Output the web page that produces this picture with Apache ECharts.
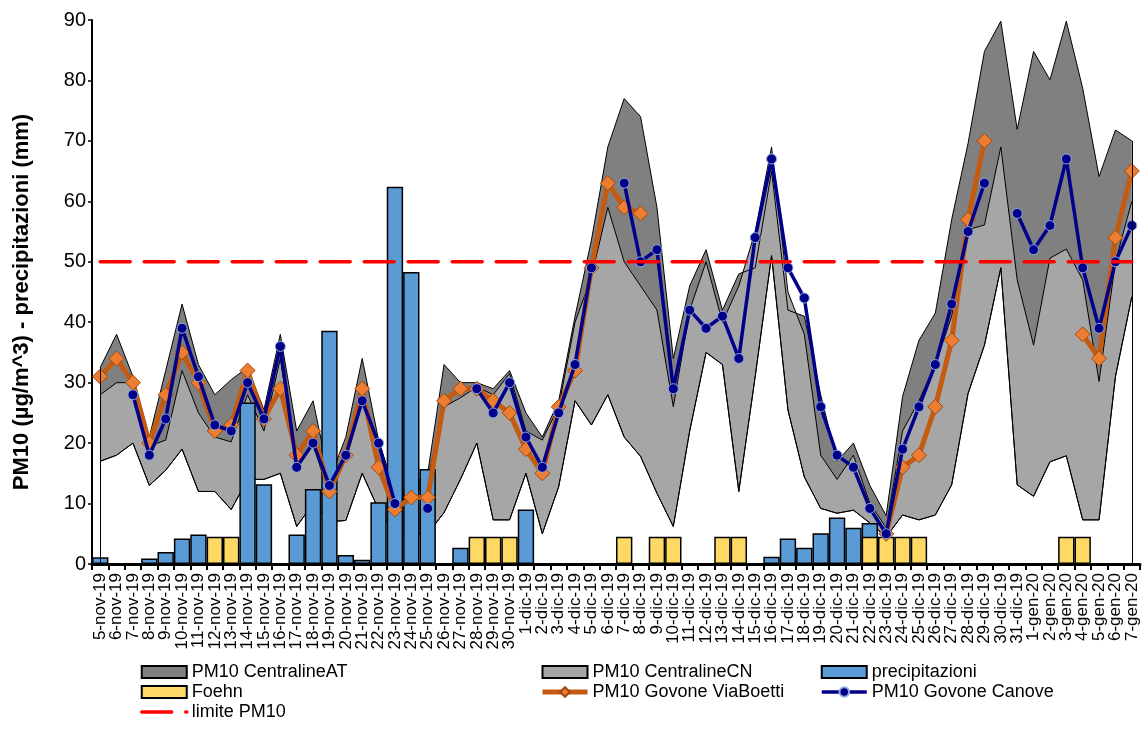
<!DOCTYPE html>
<html><head><meta charset="utf-8">
<script src="https://cdn.jsdelivr.net/npm/echarts@6/dist/echarts.min.js"></script>
<style>html,body{margin:0;padding:0;background:#fff}#c{width:1144px;height:749px}</style>
</head><body><div id="c"></div>
<script>
const categories = ['5-nov-19','6-nov-19','7-nov-19','8-nov-19','9-nov-19','10-nov-19','11-nov-19','12-nov-19','13-nov-19','14-nov-19','15-nov-19','16-nov-19','17-nov-19','18-nov-19','19-nov-19','20-nov-19','21-nov-19','22-nov-19','23-nov-19','24-nov-19','25-nov-19','26-nov-19','27-nov-19','28-nov-19','29-nov-19','30-nov-19','1-dic-19','2-dic-19','3-dic-19','4-dic-19','5-dic-19','6-dic-19','7-dic-19','8-dic-19','9-dic-19','10-dic-19','11-dic-19','12-dic-19','13-dic-19','14-dic-19','15-dic-19','16-dic-19','17-dic-19','18-dic-19','19-dic-19','20-dic-19','21-dic-19','22-dic-19','23-dic-19','24-dic-19','25-dic-19','26-dic-19','27-dic-19','28-dic-19','29-dic-19','30-dic-19','31-dic-19','1-gen-20','2-gen-20','3-gen-20','4-gen-20','5-gen-20','6-gen-20','7-gen-20'];

const atMax = [32.5,38,31,21,32,43,33,28,30.5,32.5,25.5,38,22,27,14,21,34,20.5,12,13,15,33,30,30,29,32,25,21,27,41,53.6,69,77,74,59,34,46,52,42,48,49,65,42,41,28,17,20,13,8,27.7,37,41.5,57,69.6,84.8,89.8,71.9,84.8,80.1,89.8,78.7,64.1,71.8,70];
const cnMax = [28,30,30,19.5,20.5,32,25,21,20.2,28,22,34,16,20,11,18,28,16,10,11,14,26,27.5,29.3,28,31.5,22,20.5,26,40,47.5,59,50,46,42,26,42,50,40,46,55,69,45,38,18,14,18,10,6,22,27,33,41,55.3,56.1,69,47,36.2,50.6,52.1,47,30.2,50,60];
const cnMin = [17,18,20,13,15.5,19,12,12,9,14,14,15,6.2,10,7,7.2,15,9,5,5,5,8.5,14,20,7.3,7.3,15,5,12.8,27,23,28,21,17.8,11.7,6.2,22,35,33,12,31,51,25.5,14.4,9.2,8.4,8.9,6.8,4.5,8.1,7.3,8.1,13.1,28.2,36.2,49,13.1,11.2,16.9,17.9,7.3,7.3,31,44.2];
const atMin = cnMin.slice();

const precipitazioni = [1.1,0,0,0.9,2.0,4.2,4.9,0,0,26.7,13.2,0,4.9,12.4,38.6,1.5,0.7,10.2,62.4,48.3,15.7,0,2.7,0,0,0,9.0,0,0,0,0,0,0,0,0,0,0,0,0,0,0,1.2,4.2,2.7,5.1,7.7,6.0,6.8,0,0,0,0,0,0,0,0,0,0,0,0,0,0,0,0];
const foehn = [null,null,null,null,null,null,null,4.5,4.5,null,null,null,null,null,null,null,null,null,null,null,null,null,null,4.5,4.5,4.5,null,null,null,null,null,null,4.5,null,4.5,4.5,null,null,4.5,4.5,null,null,null,null,null,null,null,4.5,4.5,4.5,4.5,null,null,null,null,null,null,null,null,4.5,4.5,null,null,null];
const viaBoetti = [31,34,30,20,28,35,30,22,23,32,24,29,18,22,12,18,29,16,9,11,11,27,29,29,27,25,19,15,26,32,49,63,59,58,null,null,null,null,null,null,null,null,null,null,null,null,null,null,5,16,18,26,37,57,70,null,null,null,null,null,38,34,54,65];
const canove = [null,null,28,18,24,39,31,23,22,30,24,36,16,20,13,18,27,20,10,null,9.2,null,null,29,25,30,21,16,25,33,49,null,63,50,52,29,42,39,41,34,54,67,49,44,26,18,16,9.2,5,19,26,33,43,55,63,null,58,52,56,67,49,39,50,56];
const limitePM10 = 50;
const yTicks = {min: 0, max: 90, interval: 10};
const yTitle = 'PM10 (µg/m^3) - precipitazioni (mm)';

const FONT = '"Liberation Sans", Arial, sans-serif';
const atRange = atMax.map((v, i) => v - atMin[i]);
const cnRange = cnMax.map((v, i) => v - cnMin[i]);
const limitData = categories.map(() => limitePM10);
const last = categories.length - 1;

const chart = echarts.init(document.getElementById('c'), null, {renderer: 'canvas'});
const edgeLine = {lineStyle: {color: '#000', width: 1, type: 'solid'}, symbol: ['none', 'none'], silent: true, label: {show: false}};
const legendBase = {orient: 'vertical', itemWidth: 45, itemHeight: 12, itemGap: 2, top: 658,
  textStyle: {fontSize: 18, color: '#000', fontFamily: FONT}, selectedMode: false};

chart.setOption({
  animation: false,
  backgroundColor: '#fff',
  grid: {left: 92, right: 4, top: 20, bottom: 185, containLabel: false},
  graphic: [{type: 'text', x: 22, y: 302, rotation: Math.PI / 2, z: 10,
    style: {text: yTitle, font: 'bold 22px ' + FONT, fill: '#000', align: 'center', verticalAlign: 'middle'}}],
  xAxis: {
    type: 'category', data: categories, boundaryGap: true,
    axisLine: {lineStyle: {color: '#000', width: 3}},
    axisTick: {show: true, length: 6, lineStyle: {color: '#000', width: 2}},
    axisLabel: {rotate: 90, interval: 0, fontSize: 17, color: '#000', fontFamily: FONT, margin: 9},
    splitLine: {show: false}
  },
  yAxis: {
    type: 'value', min: yTicks.min, max: yTicks.max, interval: yTicks.interval,
    axisLine: {show: true, lineStyle: {color: '#000', width: 2}},
    axisTick: {show: true, length: 4, lineStyle: {color: '#000', width: 1.5}},
    axisLabel: {fontSize: 20, color: '#000', fontFamily: FONT, margin: 6},
    splitLine: {show: false}
  },
  legend: [
    Object.assign({left: 135, data: [
      {name: 'PM10 CentralineAT', icon: 'rect'},
      {name: 'Foehn', icon: 'rect'},
      {name: 'limite PM10', itemStyle: {opacity: 0}, lineStyle: {width: 3.5}}]}, legendBase),
    Object.assign({left: 535, data: [
      {name: 'PM10 CentralineCN', icon: 'rect'},
      {name: 'PM10 Govone ViaBoetti', lineStyle: {width: 5}}]}, legendBase),
    Object.assign({left: 815, data: [
      {name: 'precipitazioni', icon: 'rect'},
      {name: 'PM10 Govone Canove', lineStyle: {width: 3.5}}]}, legendBase)
  ],
  series: [
    {name: 'AT base', type: 'line', stack: 'at', data: atMin, symbol: 'none', z: 1,
     lineStyle: {color: '#000', width: 1}, itemStyle: {color: '#000'},
     markLine: Object.assign({data: [
       [{coord: [categories[0], 0]}, {coord: [categories[0], atMax[0]]}],
       [{coord: [categories[last], 0]}, {coord: [categories[last], atMax[last]]}]
     ]}, edgeLine)},
    {name: 'PM10 CentralineAT', type: 'line', stack: 'at', data: atRange, symbol: 'none', z: 1,
     lineStyle: {color: '#000', width: 1}, areaStyle: {color: '#808080', opacity: 1},
     itemStyle: {color: '#808080', borderColor: '#000', borderWidth: 1}},
    {name: 'CN base', type: 'line', stack: 'cn', data: cnMin, symbol: 'none', z: 1,
     lineStyle: {color: '#000', width: 1}, itemStyle: {color: '#000'}},
    {name: 'PM10 CentralineCN', type: 'line', stack: 'cn', data: cnRange, symbol: 'none', z: 1,
     lineStyle: {color: '#000', width: 1}, areaStyle: {color: '#a6a6a6', opacity: 1},
     itemStyle: {color: '#a6a6a6', borderColor: '#000', borderWidth: 1}},
    {name: 'precipitazioni', type: 'bar', data: precipitazioni, barWidth: '100%', barGap: '-100%', z: 2,
     itemStyle: {color: '#5b9bd5', borderColor: '#000', borderWidth: 1.5}},
    {name: 'Foehn', type: 'bar', data: foehn, barWidth: '100%', barGap: '-100%', z: 2,
     itemStyle: {color: '#ffd966', borderColor: '#000', borderWidth: 1.5}},
    {name: 'PM10 Govone ViaBoetti', type: 'line', data: viaBoetti, z: 3, connectNulls: false,
     symbol: 'diamond', symbolSize: 15, showAllSymbol: true,
     lineStyle: {color: '#c55a11', width: 5},
     itemStyle: {color: '#ed7d31', borderColor: '#9e480e', borderWidth: 1}},
    {name: 'PM10 Govone Canove', type: 'line', data: canove, z: 4, connectNulls: false,
     symbol: 'circle', symbolSize: 10, showAllSymbol: true,
     lineStyle: {color: '#00008b', width: 3.5},
     itemStyle: {color: '#00008b', borderColor: '#8faadc', borderWidth: 1}},
    {name: 'limite PM10', type: 'line', data: limitData, z: 5, symbol: 'none',
     lineStyle: {color: '#ff0000', width: 3.5, type: [30, 14], cap: 'round'},
     itemStyle: {color: '#ff0000'}}
  ]
});
</script></body></html>
